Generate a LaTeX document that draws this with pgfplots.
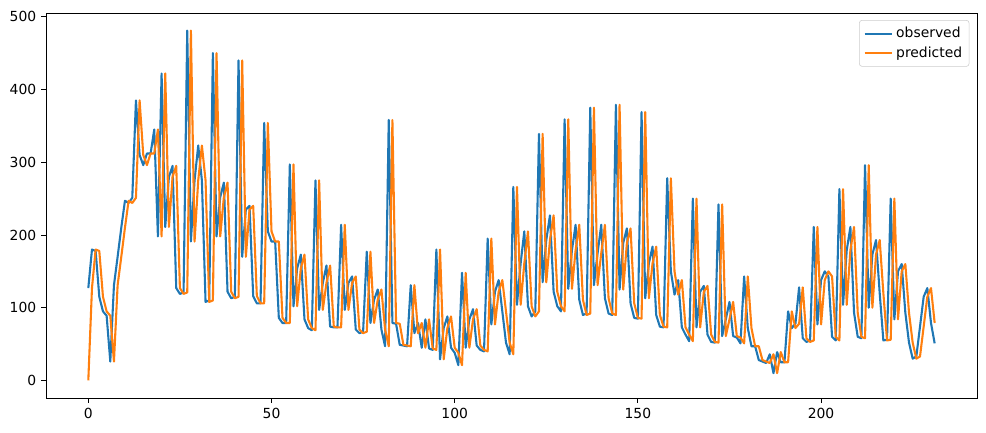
\documentclass[border=0pt]{standalone}
\usepackage{fontspec}
\setmainfont{DejaVu Sans}
\usepackage{pgfplots}
\usepackage{pgfplotstable}
\pgfplotsset{compat=1.18}
\usetikzlibrary{calc}

\definecolor{tabblue}{HTML}{1F77B4}
\definecolor{taborange}{HTML}{FF7F0E}

% x observed predicted
\pgfplotstableread{
x obs pred
0 127 0
1 180 127
2 178 180
3 115 178
4 95 115
5 89 95
6 26 89
7 131 26
8 170 131
9 210 170
10 247 210
11 244 247
12 251 244
13 385 251
14 310 385
15 296 310
16 312 296
17 312 312
18 345 312
19 198 345
20 422 198
21 211 422
22 280 211
23 295 280
24 127 295
25 119 127
26 121 119
27 481 121
28 191 481
29 275 191
30 323 275
31 275 323
32 108 275
33 110 108
34 450 110
35 198 450
36 252 198
37 272 252
38 122 272
39 113 122
40 115 113
41 440 115
42 170 440
43 235 170
44 240 235
45 116 240
46 106 116
47 106 106
48 354 106
49 205 354
50 191 205
51 191 191
52 86 191
53 79 86
54 79 79
55 297 79
56 102 297
57 154 102
58 173 154
59 84 173
60 72 84
61 69 72
62 275 69
63 97 275
64 134 97
65 158 134
66 74 158
67 73 74
68 73 73
69 214 73
70 97 214
71 134 97
72 143 134
73 70 143
74 65 70
75 67 65
76 177 67
77 79 177
78 111 79
79 125 111
80 70 125
81 47 70
82 358 47
83 79 358
84 78 79
85 49 78
86 48 49
87 47 48
88 131 47
89 65 131
90 79 65
91 45 79
92 84 45
93 44 84
94 42 44
95 180 42
96 29 180
97 72 29
98 88 72
99 45 88
100 38 45
101 21 38
102 148 21
103 45 148
104 84 45
105 98 84
106 48 98
107 42 48
108 40 42
109 195 40
110 77 195
111 122 77
112 138 122
113 95 138
114 52 95
115 36 52
116 266 36
117 104 266
118 161 104
119 205 161
120 102 205
121 88 102
122 95 88
123 339 95
124 135 339
125 193 135
126 227 193
127 122 227
128 102 122
129 95 102
130 359 95
131 126 359
132 179 126
133 214 179
134 111 214
135 90 111
136 92 90
137 375 92
138 131 375
139 175 131
140 214 175
141 113 214
142 92 113
143 90 92
144 379 90
145 125 379
146 189 125
147 209 189
148 106 209
149 86 106
150 85 86
151 369 85
152 113 369
153 161 113
154 184 161
155 90 184
156 74 90
157 73 74
158 278 73
159 150 278
160 118 150
161 138 118
162 73 138
163 63 73
164 54 63
165 250 54
166 73 250
167 122 73
168 130 122
169 63 130
170 53 63
171 52 53
172 242 52
173 61 242
174 84 61
175 108 84
176 61 108
177 59 61
178 51 59
179 143 51
180 72 143
181 47 72
182 47 47
183 28 47
184 26 28
185 24 26
186 36 24
187 10 36
188 39 10
189 25 39
190 25 25
191 95 25
192 72 95
193 78 72
194 128 78
195 58 128
196 53 58
197 55 53
198 211 55
199 77 211
200 138 77
201 150 138
202 143 150
203 60 143
204 55 60
205 263 55
206 104 263
207 179 104
208 211 179
209 93 211
210 60 93
211 58 60
212 296 58
213 100 296
214 173 100
215 193 173
216 120 193
217 55 120
218 56 55
219 250 56
220 84 250
221 150 84
222 160 150
223 93 160
224 52 93
225 30 52
226 33 30
227 74 33
228 115 74
229 127 115
230 79 127
231 51 79
}\series

\begin{document}
\begin{tikzpicture}
\begin{axis}[
    scale only axis,
    width=670pt, height=277pt,
    xmin=-11.55, xmax=242.55,
    ymin=-24.05, ymax=505.05,
    xtick={0,50,100,150,200},
    ytick={0,100,200,300,400,500},
    tick align=outside,
    major tick length=3.5pt,
    tick style={black, line width=0.6pt},
    axis line style={line width=0.6pt},
    ticklabel style={font=\fontsize{10}{12}\selectfont},
    /pgf/number format/assume math mode=true,
    xtick pos=bottom, ytick pos=left,
    legend cell align=left,
    legend style={at={(1,1)}, anchor=north east, xshift=-5.5pt, yshift=-5pt,
        draw=black!20, rounded corners=2pt, fill=white,
        font=\fontsize{10}{12}\selectfont, inner sep=3pt,
        row sep=1pt},
    legend image code/.code={\draw[#1] (0pt,0pt) -- (20pt,0pt);},
]
\addplot[tabblue, line width=1.5pt, line join=round] table[x=x, y=obs] {\series};
\addlegendentry{observed}
\addplot[taborange, line width=1.5pt, line join=round] table[x=x, y=pred] {\series};
\addlegendentry{predicted}
\end{axis}
\path ($(current axis.south west)+(-33.1pt,-24.5pt)$) rectangle ($(current axis.north east)+(6.5pt,9.4pt)$);
\end{tikzpicture}
\end{document}
